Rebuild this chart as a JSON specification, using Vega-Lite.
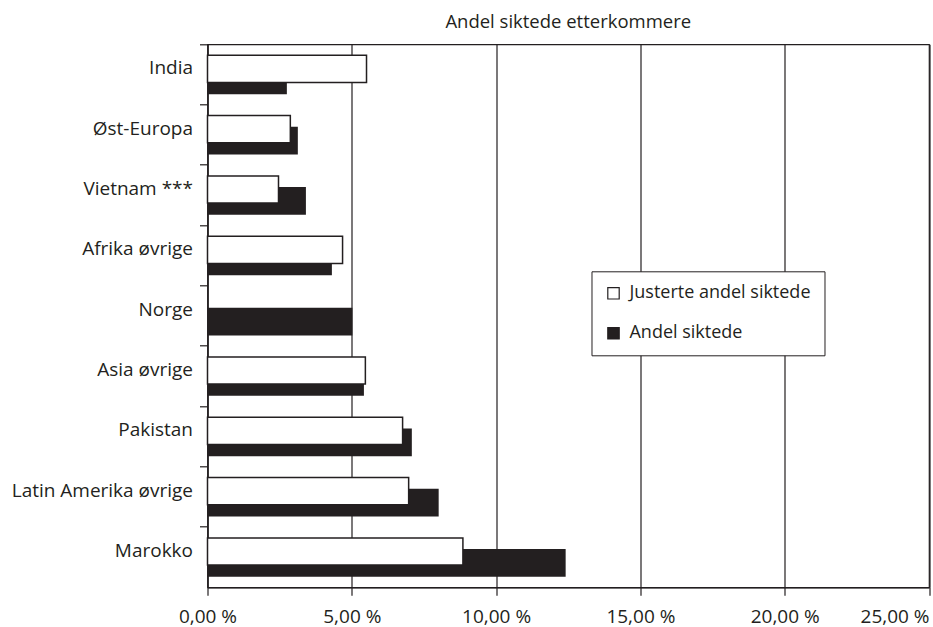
{
  "$schema": "https://vega.github.io/schema/vega-lite/v6.json",
  "autosize": {"type": "none"},
  "padding": {"left": 207.5, "top": 44.3, "right": 4, "bottom": 40},
  "width": 721.5,
  "height": 543,
  "background": "white",
  "config": {
    "font": "Open Sans",
    "view": {"stroke": "#231f20", "strokeWidth": 1.2},
    "axis": {"labelFont": "Open Sans", "labelColor": "#231f20", "domainColor": "#231f20", "tickColor": "#231f20"}
  },
  "title": {"text": "Andel siktede etterkommere", "fontSize": 18.5, "fontWeight": "normal", "color": "#231f20", "offset": 12, "font": "Open Sans"},
  "data": {
    "values": [
      {"land": "India", "serie": "Justerte andel siktede", "verdi": 5.51},
      {"land": "India", "serie": "Andel siktede", "verdi": 2.75},
      {"land": "Øst-Europa", "serie": "Justerte andel siktede", "verdi": 2.87},
      {"land": "Øst-Europa", "serie": "Andel siktede", "verdi": 3.13},
      {"land": "Vietnam ***", "serie": "Justerte andel siktede", "verdi": 2.46},
      {"land": "Vietnam ***", "serie": "Andel siktede", "verdi": 3.41},
      {"land": "Afrika øvrige", "serie": "Justerte andel siktede", "verdi": 4.68},
      {"land": "Afrika øvrige", "serie": "Andel siktede", "verdi": 4.31},
      {"land": "Norge", "serie": "Andel siktede", "verdi": 5.02},
      {"land": "Asia øvrige", "serie": "Justerte andel siktede", "verdi": 5.47},
      {"land": "Asia øvrige", "serie": "Andel siktede", "verdi": 5.42},
      {"land": "Pakistan", "serie": "Justerte andel siktede", "verdi": 6.76},
      {"land": "Pakistan", "serie": "Andel siktede", "verdi": 7.08},
      {"land": "Latin Amerika øvrige", "serie": "Justerte andel siktede", "verdi": 6.97},
      {"land": "Latin Amerika øvrige", "serie": "Andel siktede", "verdi": 8.01},
      {"land": "Marokko", "serie": "Justerte andel siktede", "verdi": 8.85},
      {"land": "Marokko", "serie": "Andel siktede", "verdi": 12.41}
    ]
  },
  "encoding": {
    "y": {
      "field": "land", "type": "nominal", "title": null,
      "scale": {"domain": ["India", "Øst-Europa", "Vietnam ***", "Afrika øvrige", "Norge", "Asia øvrige", "Pakistan", "Latin Amerika øvrige", "Marokko"], "paddingInner": 0, "paddingOuter": 0},
      "axis": {"bandPosition": 0, "tickSize": 8, "labelFontSize": 19, "labelPadding": 7, "labelOffset": -6, "labelLimit": 300, "domainWidth": 1.2, "tickWidth": 1.2}
    },
    "x": {
      "field": "verdi", "type": "quantitative", "title": null,
      "scale": {"domain": [0, 25], "nice": false},
      "axis": {"values": [0, 5, 10, 15, 20, 25], "grid": true, "gridColor": "#231f20", "gridOpacity": 1, "gridWidth": 1.2, "tickSize": 8, "labelFontSize": 19, "labelPadding": 12, "domainWidth": 1.2, "tickWidth": 1.2,
        "labelAlign": {"condition": {"test": "datum.value === 25", "value": "right"}, "value": "center"},
        "labelExpr": "replace(format(datum.value, '.2f'), '.', ',') + ' %'"}
    },
    "color": {
      "field": "serie", "type": "nominal", "title": null,
      "scale": {"domain": ["Justerte andel siktede", "Andel siktede"], "range": ["white", "#231f20"]},
      "legend": {
        "orient": "none", "legendX": 384, "legendY": 227,
        "strokeColor": "#231f20", "fillColor": "white", "padding": 13,
        "symbolType": "square", "symbolSize": 130, "symbolStrokeColor": "#231f20", "symbolStrokeWidth": 1.2,
        "labelFontSize": 18, "labelFont": "Open Sans", "labelColor": "#231f20", "labelOffset": 7, "rowPadding": 22, "labelLimit": 300
      }
    }
  },
  "layer": [
    {
      "transform": [{"filter": "datum.serie === 'Andel siktede'"}],
      "mark": {"type": "bar", "height": {"band": 0.46}, "yOffset": 5.85}
    },
    {
      "transform": [{"filter": "datum.serie === 'Justerte andel siktede'"}],
      "mark": {"type": "bar", "height": {"band": 0.45}, "yOffset": -5.65, "stroke": "#231f20", "strokeWidth": 1.5}
    }
  ]
}
